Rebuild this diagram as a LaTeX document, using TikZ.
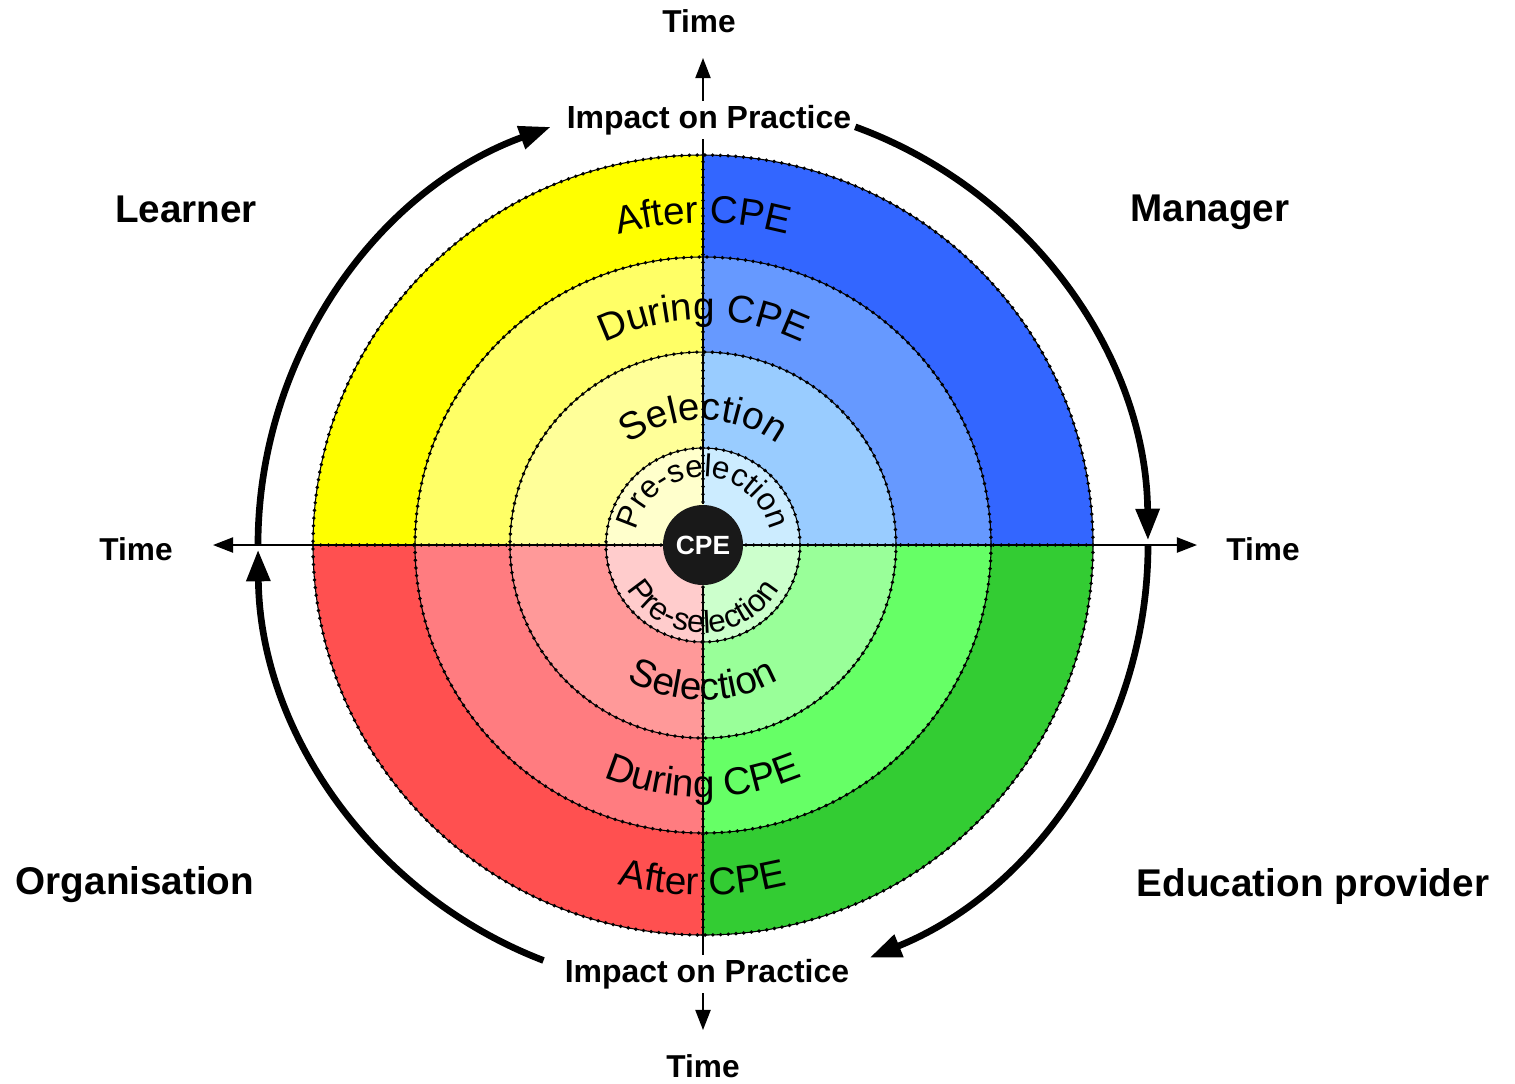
\documentclass[tikz,border=0pt]{standalone}
\usepackage{fontspec}
\setmainfont{Liberation Sans}
\usepackage{tikz}
\usepackage{xcolor}
\usetikzlibrary{arrows}
\usetikzlibrary{arrows.meta}
\usetikzlibrary{decorations}
\usetikzlibrary{decorations.text}
\usetikzlibrary{positioning}

% ring colours, 1 = innermost
\definecolor{lrn1}{HTML}{FFFFCC}
\definecolor{lrn2}{HTML}{FFFF99}
\definecolor{lrn3}{HTML}{FFFF66}
\definecolor{lrn4}{HTML}{FFFF00}
\definecolor{mgr1}{HTML}{CCECFF}
\definecolor{mgr2}{HTML}{99CCFF}
\definecolor{mgr3}{HTML}{6699FF}
\definecolor{mgr4}{HTML}{3366FF}
\definecolor{org1}{HTML}{FFCCCC}
\definecolor{org2}{HTML}{FF9999}
\definecolor{org3}{HTML}{FF7C80}
\definecolor{org4}{HTML}{FF5050}
\definecolor{edu1}{HTML}{CCFFCC}
\definecolor{edu2}{HTML}{99FF99}
\definecolor{edu3}{HTML}{66FF66}
\definecolor{edu4}{HTML}{33CC33}

\newcommand\ringfont{\fontsize{11}{13}\selectfont}
\newcommand\prefont{\fontsize{9}{11}\selectfont}

\tikzset{
  ringline/.style={line width=0.3pt},
  beads/.style={line width=1.1pt, dash pattern=on 0pt off 2.2pt, line cap=round},
  ringtext/.style={decorate, decoration={text along path, text align=center, text={#1}}},
  axis/.style={line width=0.5pt},
  flow/.style={line width=1.9pt, -{Triangle[length=9pt,width=6.5pt]}},
  who/.style={font=\fontsize{11}{13}\selectfont\bfseries},
  timelbl/.style={font=\fontsize{9}{11}\selectfont\bfseries},
  impact/.style={font=\fontsize{9.1}{11}\selectfont\bfseries, inner sep=1pt}
}

\begin{document}
\begin{tikzpicture}[x=0.1mm, y=0.1mm, >={Triangle[length=5.7pt,width=4.3pt]}]
\useasboundingbox (-703,-538) rectangle (812,545);

%quadrants
\foreach \q/\a in {mgr/0, lrn/90, org/180, edu/270} {
  \foreach \i/\r in {4/390, 3/288, 2/193, 1/97}
    \fill[\q\i] (0,0) -- (\a:\r) arc[start angle=\a, end angle=\a+90, radius=\r] -- cycle;
}

%ring borders
\foreach \r in {97, 193, 288, 390} {
  \draw[ringline] (0,0) circle[radius=\r];
  \draw[beads] (0,0) circle[radius=\r];
}
\draw[ringline] (-390,0) -- (390,0);
\draw[beads] (-390,0) -- (390,0);
\draw[beads] (0,-390) -- (0,390);

%axes
\coordinate (tipW) at (-490,0);
\coordinate (tipE) at (494,0);
\coordinate (tipN) at (0,487);
\coordinate (tipS) at (0,-485);
\draw[axis, <->] (tipW) -- (tipE);

\node[circle, fill=black!90, minimum size=8mm, inner sep=0pt, text=white,
  font=\fontsize{7.5}{9}\selectfont\bfseries] (cpe) at (0,0) {CPE};

\node[impact] (impN) at (6,425) {Impact on Practice};
\node[impact] (impS) at (4,-429) {Impact on Practice};
\draw[axis] (cpe) -- (cpe |- impN.south);
\draw[axis, ->] (cpe |- impN.north) -- (tipN);
\draw[axis] (cpe) -- (cpe |- impS.north);
\draw[axis, ->] (cpe |- impS.south) -- (tipS);

\node[timelbl] (timeN) at (-4,524) {Time};
\node[timelbl] (timeS) at (0,-521) {Time};
\node[timelbl] (timeW) at (-567,-4) {Time};
\node[timelbl] (timeE) at (560,-4) {Time};

%stages, top half
\path[ringtext={|\ringfont|After CPE}] (180:322) arc[start angle=180, end angle=0, radius=322];
\path[ringtext={|\ringfont|During CPE}] (180:225) arc[start angle=180, end angle=0, radius=225];
\path[ringtext={|\ringfont|Selection}] (180:125) arc[start angle=180, end angle=0, radius=125];
\path[ringtext={|\prefont|Pre-selection}] (180:68) arc[start angle=180, end angle=0, radius=68];

%stages, bottom half
\path[ringtext={|\ringfont|After CPE}] (180:350) arc[start angle=180, end angle=360, radius=350];
\path[ringtext={|\ringfont|During CPE}] (180:252) arc[start angle=180, end angle=360, radius=252];
\path[ringtext={|\ringfont|Selection}] (180:155) arc[start angle=180, end angle=360, radius=155];
\path[ringtext={|\prefont|Pre-selection}] (180:88) arc[start angle=180, end angle=360, radius=88];

%cycle arrows
\draw[flow] (249:445) arc[start angle=249, end angle=180.6, radius=445];
\draw[flow] (180:445) arc[start angle=180, end angle=110, radius=445];
\draw[flow] (70:445) arc[start angle=70, end angle=0.6, radius=445];
\draw[flow] (0:445) arc[start angle=0, end angle=-68, radius=445];

%stakeholders
\node[who] (learner) at (-517,336) {Learner};
\node[who] (manager) at (507,333) {Manager};
\node[who] (organisation) at (-568,-340) {Organisation};
\node[who] (provider) at (610,-341) {Education provider};
\end{tikzpicture}
\end{document}
